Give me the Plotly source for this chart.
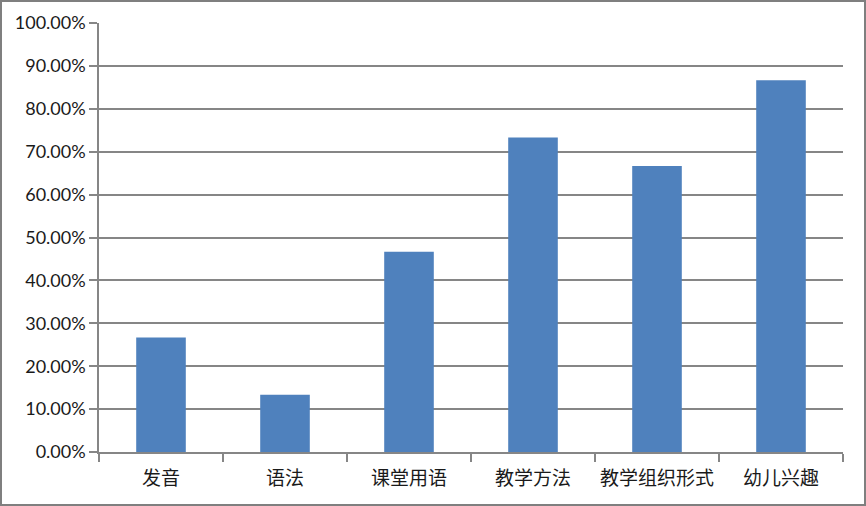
import plotly.graph_objects as go

# survey results: share of respondents per topic
categories = ["发音", "语法", "课堂用语", "教学方法", "教学组织形式", "幼儿兴趣"]
shares = [0.2667, 0.1333, 0.4667, 0.7333, 0.6667, 0.8667]
y_ticks = [i / 10 for i in range(11)]
y_tick_labels = [f"{v * 100:.2f}%" for v in y_ticks]

W, H = 866, 506
M_L, M_R, M_T, M_B = 99, 23, 23, 54
GRID = "#868686"

fig = go.Figure()

fig.add_trace(go.Bar(
    x=categories,
    y=shares,
    marker_color="#4f81bd",
    marker_line_width=0,
    width=0.4,
    hovertemplate="%{x}: %{y:.2%}<extra></extra>",
))

# outer frame round the whole picture
pw, ph = W - M_L - M_R, H - M_T - M_B
fig.add_shape(
    type="rect", xref="paper", yref="paper",
    x0=-(M_L - 1) / pw, x1=1 + (M_R - 1) / pw,
    y0=-(M_B - 1) / ph, y1=1 + (M_T - 1) / ph,
    line=dict(color="#7f7f7f", width=2),
    layer="above",
)

fig.update_layout(
    width=W,
    height=H,
    margin=dict(l=M_L, r=M_R, t=M_T, b=M_B),
    paper_bgcolor="white",
    plot_bgcolor="white",
    showlegend=False,
    bargap=0.6,
    xaxis=dict(
        type="category",
        showline=True,
        linecolor=GRID,
        linewidth=1.5,
        ticks="outside",
        tickson="boundaries",
        ticklen=8,
        tickcolor=GRID,
        tickwidth=1.5,
        ticklabelstandoff=8,
        showgrid=False,
        tickfont=dict(family="Noto Sans CJK SC", size=19, color="#1a1a1a"),
    ),
    yaxis=dict(
        range=[0, 1],
        tickvals=y_ticks,
        ticktext=y_tick_labels,
        showline=True,
        linecolor=GRID,
        linewidth=1.5,
        ticks="outside",
        ticklen=8,
        tickcolor=GRID,
        tickwidth=1.5,
        showgrid=True,
        gridcolor=GRID,
        gridwidth=1.5,
        zeroline=False,
        tickfont=dict(family="Lato", size=18, color="#1a1a1a"),
    ),
)

# drop the browser's default page margin so the chart sits at 0,0
fig.write_html(
    "out.html",
    config={"displayModeBar": False},
    post_script="document.body.style.margin='0';",
)
